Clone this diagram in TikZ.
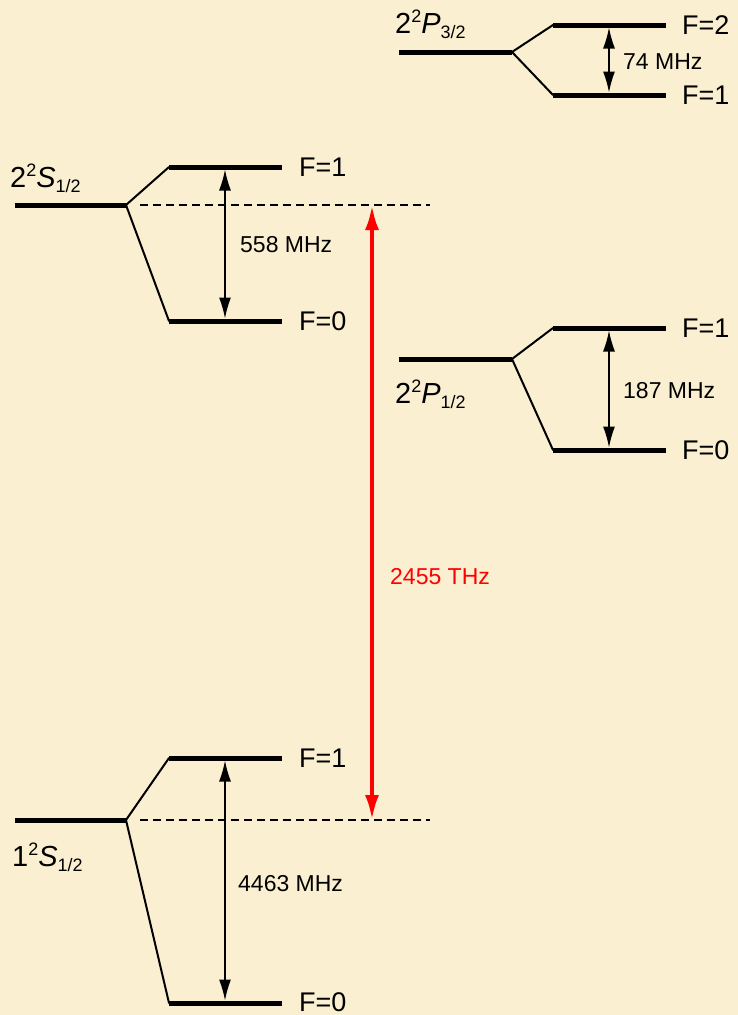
\documentclass[tikz,border=0pt]{standalone}
\usepackage{fontspec}
\setmainfont{Liberation Sans}
\usetikzlibrary{arrows.meta}
\definecolor{bgc}{RGB}{250,239,208}
\begin{document}
\begin{tikzpicture}[x=1pt,y=-1pt,
 level/.style={line width=5pt},
 split/.style={line width=2pt, line cap=round},
 dashline/.style={line width=1.3pt, dash pattern=on 8pt off 5pt},
 gap/.style={line width=1.5pt, shorten <=2.5pt, shorten >=2.5pt,
   {Latex[length=21pt,width=12pt]}-{Latex[length=21pt,width=12pt]}},
 trans/.style={line width=4pt, red, {Latex[length=25pt,width=14pt]}-{Latex[length=25pt,width=14pt]}},
 flabel/.style={anchor=west, inner sep=0pt, font=\fontsize{27}{30}\selectfont},
 freq/.style={anchor=west, inner sep=0pt, font=\fontsize{23}{26}\selectfont},
 state/.style={anchor=base west, inner sep=0pt, font=\fontsize{29}{32}\selectfont}]
\newcommand{\supn}[1]{\raisebox{11pt}{\fontsize{18}{18}\selectfont #1}}
\newcommand{\subn}[1]{\raisebox{-5pt}{\fontsize{18}{18}\selectfont #1}}
\fill[bgc] (0,0) rectangle (738,1015);
\useasboundingbox (0,0) rectangle (738,1015);

% ---------- 2^2 S_1/2 ----------
\coordinate (sA) at (15,205); \coordinate (sB) at (126,205);
\coordinate (s1a) at (169,167); \coordinate (s1b) at (282,167);
\coordinate (s0a) at (169,321); \coordinate (s0b) at (282,321);
\coordinate (s1m) at (225,167); \coordinate (s0m) at (225,321);
\draw[level] (sA) -- (sB);
\draw[level] (s1a) -- (s1b);
\draw[level] (s0a) -- (s0b);
\draw[split] (sB) -- (s1a);
\draw[split] (sB) -- (s0a);
\draw[gap] (s1m) -- (s0m);
\node[freq] (f558) at (240,245) {558 MHz};
\node[flabel] (l2s1) at (299,167) {F=1};
\node[flabel] (l2s0) at (299,321) {F=0};
\node[state] (n2s) at (10,187) {2\supn{2}\textit{S}\subn{1/2}};
\coordinate (d2a) at (140,205); \coordinate (d2b) at (430,205);
\draw[dashline] (d2a) -- (d2b);

% ---------- 1^2 S_1/2 ----------
\coordinate (gA) at (15,820); \coordinate (gB) at (126,820);
\coordinate (g1a) at (169,758); \coordinate (g1b) at (282,758);
\coordinate (g0a) at (169,1003); \coordinate (g0b) at (282,1003);
\coordinate (g1m) at (225,758); \coordinate (g0m) at (225,1003);
\draw[level] (gA) -- (gB);
\draw[level] (g1a) -- (g1b);
\draw[level] (g0a) -- (g0b);
\draw[split] (gB) -- (g1a);
\draw[split] (gB) -- (g0a);
\draw[gap] (g1m) -- (g0m);
\node[freq] (f4463) at (238,884) {4463 MHz};
\node[flabel] (l1s1) at (299,758) {F=1};
\node[flabel] (l1s0) at (299,1002) {F=0};
\node[state] (n1s) at (12,866) {1\supn{2}\textit{S}\subn{1/2}};
\coordinate (d1a) at (140,820); \coordinate (d1b) at (430,820);
\draw[dashline] (d1a) -- (d1b);

% ---------- transition ----------
\coordinate (rT) at (372,205); \coordinate (rB) at (372,820);
\draw[trans] (rT) -- (rB);
\node[freq, text=red] (f2455) at (390,577) {2455 THz};

% ---------- 2^2 P_3/2 ----------
\coordinate (pA) at (399,52); \coordinate (pB) at (512,52);
\coordinate (p2a) at (553,25); \coordinate (p2b) at (666,25);
\coordinate (p1a) at (553,95); \coordinate (p1b) at (666,95);
\coordinate (p2m) at (609,25); \coordinate (p1m) at (609,95);
\draw[level] (pA) -- (pB);
\draw[level] (p2a) -- (p2b);
\draw[level] (p1a) -- (p1b);
\draw[split] (pB) -- (p2a);
\draw[split] (pB) -- (p1a);
\draw[gap] (p2m) -- (p1m);
\node[freq] (f74) at (623,62) {74 MHz};
\node[flabel] (l3p2) at (682,25) {F=2};
\node[flabel] (l3p1) at (682,95) {F=1};
\node[state] (n3p) at (395,33) {2\supn{2}\textit{P}\subn{3/2}};

% ---------- 2^2 P_1/2 ----------
\coordinate (qA) at (399,359); \coordinate (qB) at (512,359);
\coordinate (q1a) at (553,328); \coordinate (q1b) at (666,328);
\coordinate (q0a) at (553,450); \coordinate (q0b) at (666,450);
\coordinate (q1m) at (609,328); \coordinate (q0m) at (609,450);
\draw[level] (qA) -- (qB);
\draw[level] (q1a) -- (q1b);
\draw[level] (q0a) -- (q0b);
\draw[split] (qB) -- (q1a);
\draw[split] (qB) -- (q0a);
\draw[gap] (q1m) -- (q0m);
\node[freq] (f187) at (623,391) {187 MHz};
\node[flabel] (l1p1) at (682,328) {F=1};
\node[flabel] (l1p0) at (682,450) {F=0};
\node[state] (n1p) at (395,403) {2\supn{2}\textit{P}\subn{1/2}};
\end{tikzpicture}
\end{document}
